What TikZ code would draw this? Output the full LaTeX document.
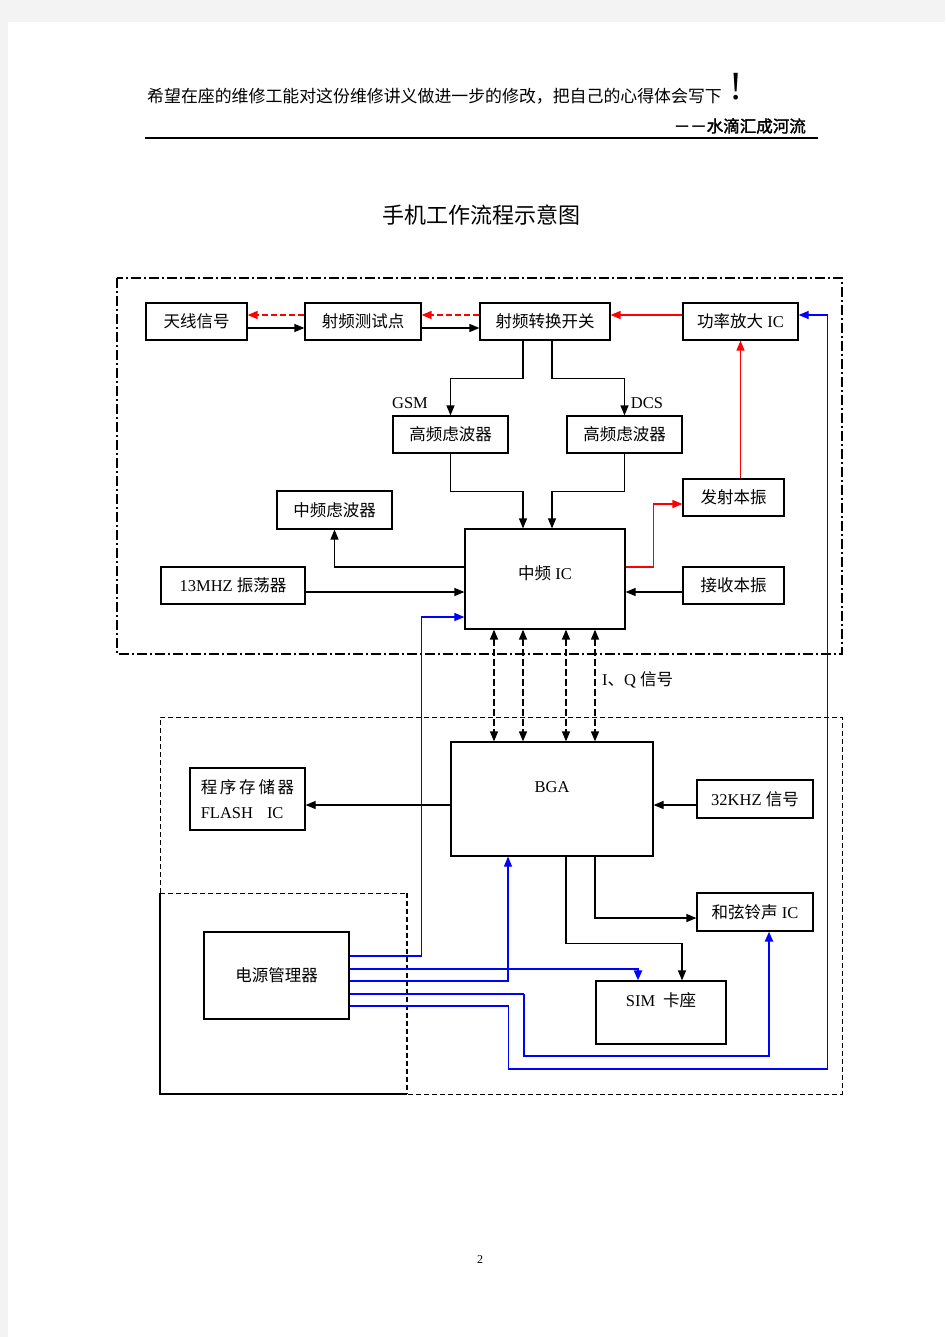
\documentclass[tikz,border=0pt]{standalone}
\usepackage{fontspec}
\setmainfont{Liberation Serif}
\newfontfamily\cjk{Noto Sans CJK SC}[AutoFakeBold=2]
\newcommand{\zh}[1]{{\cjk #1}}
\usetikzlibrary{arrows.meta,positioning,calc}

\begin{document}
\begin{tikzpicture}[x=1pt, y=-1pt,
    >={Triangle[length=10pt,width=8pt]},
    blk/.style={draw, line width=1.2pt, inner sep=0pt, font=\fontsize{16.5}{20}\selectfont},
    txt/.style={font=\fontsize{16.5}{20}\selectfont, inner sep=0pt},
    lnk/.style={->, line width=1.2pt},
    rfline/.style={->, rfred, line width=1.3pt},
    rfdash/.style={rfline, dash pattern=on 6pt off 3pt},
    iq/.style={<->, line width=1.4pt, dash pattern=on 7pt off 3pt},
    pw/.style={pwrblue, line width=1.1pt},
    pwthick/.style={pwrblue, line width=2.2pt}]
    % Definizione colori
    \definecolor{rfred}{RGB}{255,0,0}
    \definecolor{pwrblue}{RGB}{0,0,255}
    \definecolor{pagegray}{RGB}{243,243,243}

    % Pagina
    \useasboundingbox (0,0) rectangle (945,1337);
    \fill[pagegray] (0,0) rectangle (945,1337);
    \fill[white] (8,22) rectangle (945,1337);

    % Intestazione
    \node[font=\fontsize{16.9}{20}\selectfont, inner sep=0pt, anchor=west] (motto) at (147,96) {\zh{希望在座的维修工能对这份维修讲义做进一步的修改，把自己的心得体会写下}};
    \node[font=\fontsize{40}{42}\selectfont, inner sep=0pt] (excl) at (736,87) {!};
    \node[txt, anchor=east] (firma) at (806,126) {\zh{\bfseries －－水滴汇成河流}};
    \draw[line width=2.2pt] (145,138) -- (818,138);

    % Titolo
    \node[font=\fontsize{22}{26}\selectfont] (titolo) at (481,215) {\zh{手机工作流程示意图}};

    % Riquadri tratteggiati
    \draw[line width=1.2pt, dash pattern=on 10pt off 3pt on 2pt off 3pt] (117,278) rectangle (842,654);
    \draw[line width=1pt, dash pattern=on 5pt off 3pt] (160,893) -- (160,717) -- (842,717) -- (842,1094) -- (407,1094);
    \draw[line width=1.1pt] (407,1094) -- (160,1094) -- (160,893);
    \draw[line width=1pt, dash pattern=on 5pt off 3pt] (160,893) -- (407,893);
    \draw[line width=1.9pt, dash pattern=on 5pt off 3pt] (407,893) -- (407,1094);

    % Blocchi RF
    \node[blk, minimum width=101, minimum height=37] (ant) at (196.5,321.5) {\zh{天线信号}};
    \node[blk, minimum width=116, minimum height=37] (test) at (363,321.5) {\zh{射频测试点}};
    \node[blk, minimum width=130, minimum height=37] (sw) at (545,321.5) {\zh{射频转换开关}};
    \node[blk, minimum width=115, minimum height=37] (pa) at (740.5,321.5) {\zh{功率放大} IC};
    \node[blk, minimum width=115, minimum height=37] (hf1) at (450.5,434.5) {\zh{高频虑波器}};
    \node[blk, minimum width=115, minimum height=37] (hf2) at (624.5,434.5) {\zh{高频虑波器}};
    \node[blk, minimum width=115, minimum height=38] (iff) at (334.5,510) {\zh{中频虑波器}};
    \node[blk, minimum width=101, minimum height=37] (tx) at (733.5,497.5) {\zh{发射本振}};
    \node[blk, minimum width=160, minimum height=100,
        label={[txt, anchor=center, yshift=6]center:{\zh{中频} IC}}] (if) at (545,579) {};
    \node[blk, minimum width=144, minimum height=37] (osc) at (233,585.5) {13MHZ \zh{振荡器}};
    \node[blk, minimum width=101, minimum height=37] (rx) at (733.5,585.5) {\zh{接收本振}};
    \node[txt] (gsm) at (410,403) {GSM};
    \node[txt] (dcs) at (647,403) {DCS};

    % Blocchi banda base
    \node[blk, minimum width=202, minimum height=114,
        label={[txt, anchor=center, yshift=12]center:BGA}] (bga) at (552,799) {};
    \node[blk, minimum width=115, minimum height=62, align=left] (flash) at (247.5,799)
        {\zh{程\,序\,存\,储\,器}\\[5pt]FLASH\hspace{14pt}IC};
    \node[blk, minimum width=116, minimum height=38] (clk) at (755,799) {32KHZ \zh{信号}};
    \node[blk, minimum width=116, minimum height=38] (ring) at (755,912) {\zh{和弦铃声} IC};
    \node[blk, minimum width=130, minimum height=63,
        label={[txt, anchor=center, yshift=12.5]center:{SIM\hspace{8pt}\zh{卡座}}}] (sim) at (661,1012.5) {};
    \node[blk, minimum width=145, minimum height=87] (pwr) at (276.5,975.5) {\zh{电源管理器}};
    \node[txt, anchor=west] (iqlbl) at (602,680) {I\zh{、}Q \zh{信号}};

    % Percorso RF
    \draw[rfdash] ([yshift=6.5]test.west) -- ([yshift=6.5]ant.east);
    \draw[lnk] ([yshift=-6.5]ant.east) -- ([yshift=-6.5]test.west);
    \draw[rfdash] ([yshift=6.5]sw.west) -- ([yshift=6.5]test.east);
    \draw[lnk] ([yshift=-6.5]test.east) -- ([yshift=-6.5]sw.west);
    \draw[rfline] ([yshift=6.5]pa.west) -- ([yshift=6.5]sw.east);
    \draw[lnk] ([xshift=-22]sw.south) -- ++(0,38) -| (hf1.north);
    \draw[lnk] ([xshift=7]sw.south) -- ++(0,38) -| (hf2.north);
    \draw[lnk] (hf1.south) -- ++(0,38) -| ([xshift=-22]if.north);
    \draw[lnk] (hf2.south) -- ++(0,38) -| ([xshift=7]if.north);
    \draw[lnk] ([yshift=12]if.west) -| (iff.south);
    \draw[lnk] ([yshift=-6.5]osc.east) -- ([yshift=-13]if.west);
    \draw[lnk] ([yshift=-6.5]rx.west) -- ([yshift=-13]if.east);
    \draw[rfline] ([yshift=12]if.east) -- ++(28,0) |- ([yshift=-6.5]tx.west);
    \draw[rfline] (pa.south |- tx.north) -- (pa.south);

    % Segnali I/Q
    \foreach \d in {-51,-22,21,50}
        \draw[iq] ([xshift=\d]if.south) coordinate (q) -- (q |- bga.north);

    % Banda base
    \draw[lnk] ([yshift=-6]bga.west) -- ([yshift=-6]flash.east);
    \draw[lnk] ([yshift=-6]clk.west) -- ([yshift=-6]bga.east);
    \draw[lnk] ([xshift=14]bga.south) -- ++(0,87) -| ([xshift=21]sim.north);
    \draw[lnk] ([xshift=43]bga.south) |- ([yshift=-6]ring.west);

    % Alimentazioni
    \draw[pw, ->] ([yshift=19.5]pwr.east) -- ++(72,0) |- ([yshift=-38]if.west);
    \draw[pwthick, ->] ([yshift=6.5]pwr.east) -| ([xshift=-23]sim.north);
    \draw[pw, ->] ([yshift=-5.5]pwr.east) -| ([xshift=-44]bga.south);
    \draw[pw] ([yshift=-18.5]pwr.east) -- ++(174,0) coordinate (r1);
    \draw[pwthick, ->] (r1) -- ++(0,62) -| ([xshift=14]ring.south);
    \draw[pwthick] ([yshift=-30.5]pwr.east) -- ++(159,0) coordinate (r2);
    \draw[pw, ->] (r2) -- ++(0,63) -- ++(319,0) |- ([yshift=6.5]pa.east);

    % Numero di pagina
    \node[font=\fontsize{12}{14}\selectfont] (pagina) at (480,1260) {2};
\end{tikzpicture}
\end{document}
